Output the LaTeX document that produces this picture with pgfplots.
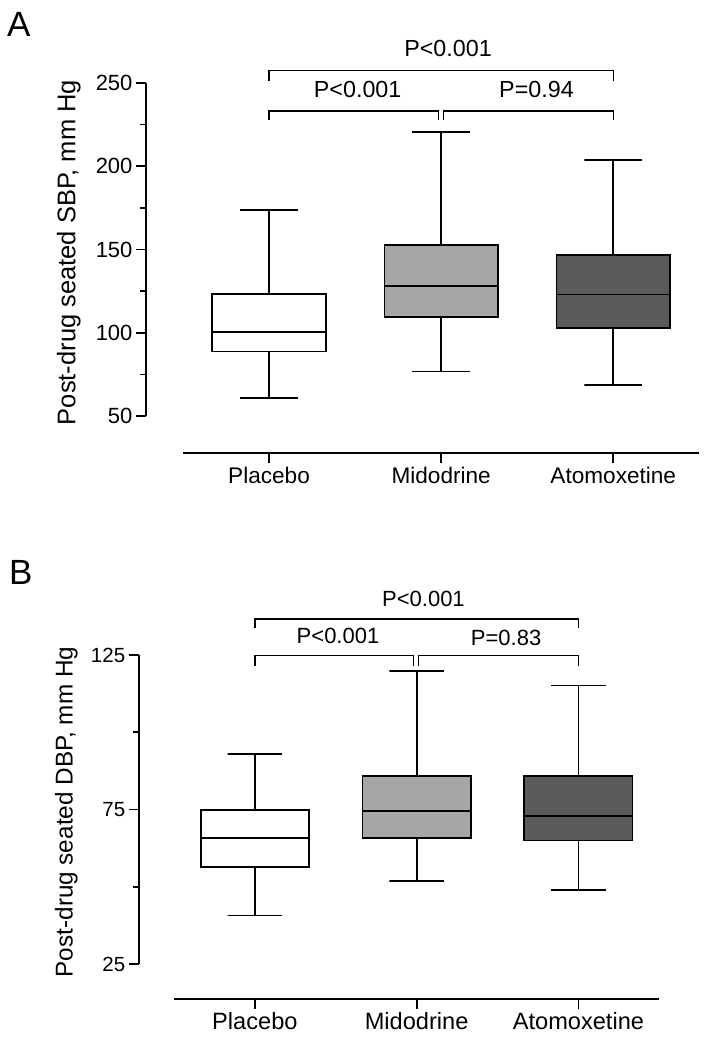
\documentclass[border=0pt]{standalone}
\usepackage{fontspec}
\setmainfont{Liberation Sans}
\usepackage{pgfplots}
\pgfplotsset{compat=1.18}
\definecolor{midgray}{HTML}{A6A6A6}
\definecolor{dkgray}{HTML}{5B5B5B}
\newcommand{\fs}[1]{\fontsize{#1}{#1}\selectfont}
\tikzset{br/.style={line width=1.4pt, black}}
\pgfplotsset{
  common/.style={
    scale only axis, clip=false,
    xmin=-0.5, xmax=2.5,
    axis x line=bottom, axis y line=left,
    axis line style={-, line width=1.7pt, black},
    tick style={line width=1.7pt, black},
    tick align=outside, major tick length=10pt, minor tick length=6pt,
    xtick={0,1,2}, xticklabels={Placebo,Midodrine,Atomoxetine},
    /pgf/number format/assume math mode=true,
  },
  bl/.style={draw=black, line width=1.7pt, mark=none, solid, line join=miter},
}
\begin{document}
\begin{tikzpicture}
\path[use as bounding box] (0pt,0pt) rectangle (715pt,1049pt);
% ---------------- Panel A ----------------
\begin{axis}[common,
  at={(183pt,633pt)}, anchor=south west,
  width=516.3pt, height=333pt,
  ymin=50, ymax=250,
  axis x line shift=37.3pt, axis y line shift=37pt,
  ytick={50,100,150,200,250}, minor ytick={75,125,175,225},
  yticklabel style={font=\fs{22}},
  xticklabel style={font=\fs{22.6}},
]
% Placebo: 61, 88.8, 100.3, 123.3, 173.7
\addplot[bl, fill=white] coordinates {(-0.33,88.8) (0.33,88.8) (0.33,123.3) (-0.33,123.3)} -- cycle;
\addplot[bl] coordinates {(-0.33,100.3) (0.33,100.3)};
\addplot[bl] coordinates {(0,123.3) (0,173.7) (-0.168,173.7) (0.168,173.7)};
\addplot[bl] coordinates {(0,88.8) (0,61) (-0.168,61) (0.168,61)};
% Midodrine: 76.8, 109.3, 127.9, 152.7, 220.6
\addplot[bl, fill=midgray] coordinates {(0.67,109.3) (1.33,109.3) (1.33,152.7) (0.67,152.7)} -- cycle;
\addplot[bl] coordinates {(0.67,127.9) (1.33,127.9)};
\addplot[bl] coordinates {(1,152.7) (1,220.6) (0.832,220.6) (1.168,220.6)};
\addplot[bl] coordinates {(1,109.3) (1,76.8) (0.832,76.8) (1.168,76.8)};
% Atomoxetine: 68.6, 102.9, 122.9, 146.5, 203.6
\addplot[bl, fill=dkgray] coordinates {(1.67,102.9) (2.33,102.9) (2.33,146.5) (1.67,146.5)} -- cycle;
\addplot[bl] coordinates {(1.67,122.9) (2.33,122.9)};
\addplot[bl] coordinates {(2,146.5) (2,203.6) (1.832,203.6) (2.168,203.6)};
\addplot[bl] coordinates {(2,102.9) (2,68.6) (1.832,68.6) (2.168,68.6)};
\draw[br] (axis cs:0,251.2) -- (axis cs:0,257.4) -- (axis cs:2,257.4) -- (axis cs:2,251.2);
\draw[br] (axis cs:0,227.8) -- (axis cs:0,233.2) -- (axis cs:0.983,233.2) -- (axis cs:0.983,227.8);
\draw[br] (axis cs:1.012,227.8) -- (axis cs:1.012,233.2) -- (axis cs:2,233.2) -- (axis cs:2,227.8);
\node[font=\fs{23.3}, anchor=base, inner sep=0pt] at (axis cs:1.04,265.8) {P<0.001};
\node[font=\fs{23.3}, anchor=base, inner sep=0pt] at (axis cs:0.515,241) {P<0.001};
\node[font=\fs{23.3}, anchor=base, inner sep=0pt] at (axis cs:1.554,241) {P=0.94};
\end{axis}
% ---------------- Panel B ----------------
\begin{axis}[common,
  at={(174pt,84.7pt)}, anchor=south west,
  width=485.3pt, height=309.3pt,
  ymin=25, ymax=125,
  axis x line shift=35pt, axis y line shift=35.3pt,
  ytick={25,75,125}, minor ytick={50,100},
  yticklabel style={font=\fs{20.5}},
  xticklabel style={font=\fs{23.6}},
]
% Placebo: 40.8, 56.5, 65.9, 74.9, 92.9
\addplot[bl, fill=white] coordinates {(-0.335,56.5) (0.335,56.5) (0.335,74.9) (-0.335,74.9)} -- cycle;
\addplot[bl] coordinates {(-0.335,65.9) (0.335,65.9)};
\addplot[bl] coordinates {(0,74.9) (0,92.9) (-0.168,92.9) (0.168,92.9)};
\addplot[bl] coordinates {(0,56.5) (0,40.8) (-0.168,40.8) (0.168,40.8)};
% Midodrine: 51.9, 65.9, 74.5, 85.9, 119.9
\addplot[bl, fill=midgray] coordinates {(0.665,65.9) (1.335,65.9) (1.335,85.9) (0.665,85.9)} -- cycle;
\addplot[bl] coordinates {(0.665,74.5) (1.335,74.5)};
\addplot[bl] coordinates {(1,85.9) (1,119.9) (0.832,119.9) (1.168,119.9)};
\addplot[bl] coordinates {(1,65.9) (1,51.9) (0.832,51.9) (1.168,51.9)};
% Atomoxetine: 49, 65, 73, 85.9, 115.1
\addplot[bl, fill=dkgray] coordinates {(1.665,65) (2.335,65) (2.335,85.9) (1.665,85.9)} -- cycle;
\addplot[bl] coordinates {(1.665,73) (2.335,73)};
\addplot[bl] coordinates {(2,85.9) (2,115.1) (1.832,115.1) (2.168,115.1)};
\addplot[bl] coordinates {(2,65) (2,49) (1.832,49) (2.168,49)};
\draw[br] (axis cs:0,133.6) -- (axis cs:0,136.7) -- (axis cs:2,136.7) -- (axis cs:2,133.6);
\draw[br] (axis cs:0,121.5) -- (axis cs:0,124.8) -- (axis cs:0.980,124.8) -- (axis cs:0.980,121.5);
\draw[br] (axis cs:1.011,121.5) -- (axis cs:1.011,124.8) -- (axis cs:2,124.8) -- (axis cs:2,121.5);
\node[font=\fs{22}, anchor=base, inner sep=0pt] at (axis cs:1.042,140.6) {P<0.001};
\node[font=\fs{22}, anchor=base, inner sep=0pt] at (axis cs:0.514,128.6) {P<0.001};
\node[font=\fs{22}, anchor=base, inner sep=0pt] at (axis cs:1.553,128.2) {P=0.83};
\end{axis}
% labels
\node[font=\fs{35}, anchor=base west, inner sep=0pt] at (7pt,1012pt) {A};
\node[font=\fs{35}, anchor=base west, inner sep=0pt] at (9pt,464pt) {B};
\node[font=\fs{25.5}, rotate=90, anchor=base, inner sep=0pt] at (75.3pt,796.5pt) {Post-drug seated SBP, mm Hg};
\node[font=\fs{24.3}, rotate=90, anchor=base, inner sep=0pt] at (72.7pt,237pt) {Post-drug seated DBP, mm Hg};
\end{tikzpicture}
\end{document}
